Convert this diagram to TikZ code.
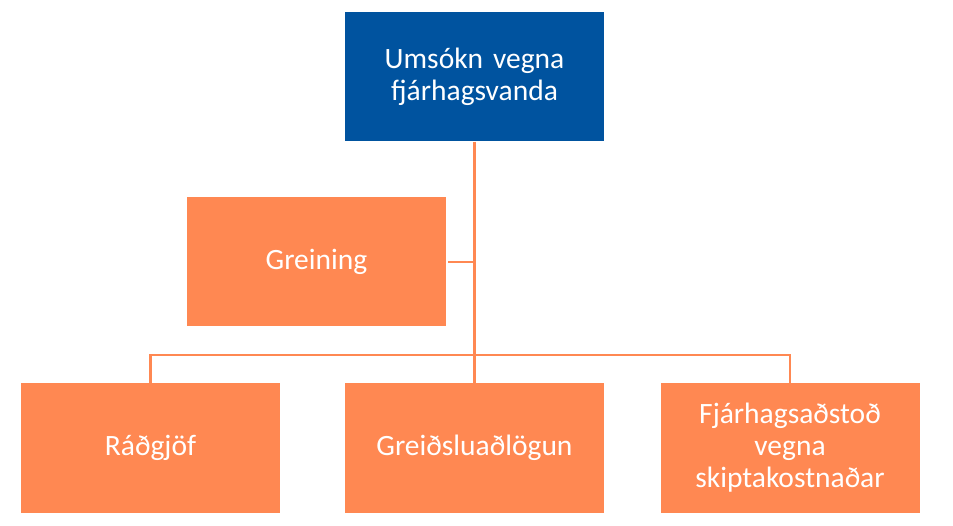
\documentclass[tikz,border=0pt]{standalone}
\usepackage{fontspec}
\setmainfont{Carlito}
\definecolor{boxblue}{HTML}{00539F}
\definecolor{boxorange}{HTML}{FF8852}
\begin{document}
\begin{tikzpicture}[x=1pt,y=-1pt,
  box/.style={minimum width=259pt,minimum height=129pt,inner sep=0pt,text=white,
    align=center,font=\fontsize{29.5}{32}\selectfont,text width=250pt},
  bluebox/.style={box,fill=boxblue},
  orangebox/.style={box,fill=boxorange},
  conn/.style={draw=boxorange,line width=2.6pt}]
\useasboundingbox (0,0) rectangle (953,526);
\node[bluebox] (top) at (474.5,77) {Umsókn vegna\\fjárhagsvanda};
\node[orangebox] (grein) at (316.5,262) {Greining};
\node[orangebox] (rad) at (150.5,448) {Ráðgjöf};
\node[orangebox] (greid) at (474.5,448) {Greiðsluaðlögun};
\node[orangebox] (fjar) at (790,448) {Fjárhagsaðstoð\\vegna\\skiptakostnaðar};
\coordinate (bus) at (474.5,355);
\coordinate (gj) at (474.5,262);
\draw[conn] (top.south) -- (greid.north);
\draw[conn] ([xshift=2pt]grein.east) -- (gj);
\draw[conn] (rad.north) |- (bus) -| (fjar.north);
\end{tikzpicture}
\end{document}
